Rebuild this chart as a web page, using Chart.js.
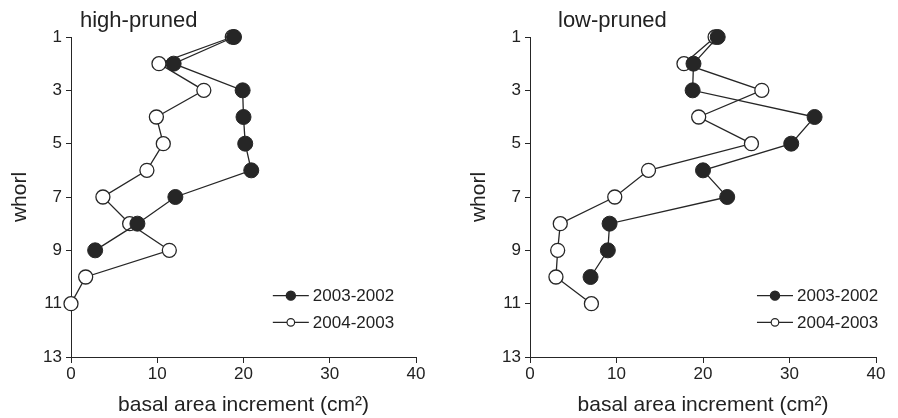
<!DOCTYPE html>
<html>
<head>
<meta charset="utf-8">
<script src="https://cdn.jsdelivr.net/npm/chart.js@4.4.1/dist/chart.umd.min.js"></script>
<style>
  html, body { margin: 0; padding: 0; background: #fff; }
  .wrap { display: flex; width: 898px; height: 418px; }
  .panel { position: relative; width: 449px; height: 418px; }
</style>
</head>
<body>
<div class="wrap">
  <div class="panel"><canvas id="high"></canvas></div>
  <div class="panel"><canvas id="low"></canvas></div>
</div>
<script>
// whorl number (1 = top of crown)
const whorls = [1, 2, 3, 4, 5, 6, 7, 8, 9, 10, 11];
const seriesLabels = ['2003-2002', '2004-2003'];

// basal area increment (cm²) per whorl
const highPruned0302 = [18.9, 11.9, 19.9, 20.0, 20.2, 20.9, 12.1, 7.7, 2.8];
const highPruned0403 = [18.7, 10.2, 15.4, 9.9, 10.7, 8.8, 3.7, 6.8, 11.4, 1.7, 0.0];
const lowPruned0302 = [21.7, 18.9, 18.8, 32.9, 30.2, 20.0, 22.8, 9.2, 9.0, 7.0];
const lowPruned0403 = [21.4, 17.8, 26.8, 19.5, 25.6, 13.7, 9.8, 3.5, 3.2, 3.0, 7.1];

const xTicks = [0, 10, 20, 30, 40];
const yTicks = [1, 3, 5, 7, 9, 11, 13];

const ink = '#262626';
const FONT = 'Liberation Sans, Arial, Helvetica, sans-serif';

function toPoints(vals) {
  return vals.map((v, i) => ({ x: v, y: whorls[i] }));
}

// panel label above the plot ("high-pruned" / "low-pruned")
const panelLabel = {
  id: 'panelLabel',
  afterDraw(chart, args, opts) {
    const ctx = chart.ctx;
    ctx.save();
    ctx.font = '22px ' + FONT;
    ctx.fillStyle = '#222';
    ctx.textBaseline = 'alphabetic';
    ctx.fillText(opts.text, chart.chartArea.left + opts.offset, 27);
    ctx.restore();
  }
};

// small legend drawn inside the plot, line + marker like the original
const inlineLegend = {
  id: 'inlineLegend',
  afterDraw(chart, args, opts) {
    const { ctx, chartArea, scales } = chart;
    const x0 = chartArea.left + opts.at * (chartArea.right - chartArea.left);
    const len = 36;
    ctx.save();
    chart.data.datasets.forEach((ds, i) => {
      const y = scales.y.getPixelForValue(opts.rows[i]);
      ctx.strokeStyle = ink;
      ctx.lineWidth = 1.2;
      ctx.beginPath();
      ctx.moveTo(x0, y);
      ctx.lineTo(x0 + len, y);
      ctx.stroke();
      ctx.beginPath();
      ctx.arc(x0 + len / 2, y, i === 0 ? 4.6 : 3.8, 0, Math.PI * 2);
      ctx.fillStyle = ds.pointBackgroundColor;
      ctx.fill();
      ctx.lineWidth = 1.2;
      ctx.stroke();
      ctx.fillStyle = '#222';
      ctx.font = '17px ' + FONT;
      ctx.textBaseline = 'middle';
      ctx.fillText(ds.label, x0 + len + 4, y + 1);
    });
    ctx.restore();
  }
};

function makePanel(id, title, titleOffset, filled, open, yWidth, yTitlePad, padRight, legendAt) {
  return new Chart(document.getElementById(id), {
    type: 'line',
    data: {
      datasets: [
        {
          label: seriesLabels[0],
          data: toPoints(filled),
          borderColor: ink,
          borderWidth: 1.3,
          pointRadius: 7.5,
          pointBackgroundColor: ink,
          pointBorderColor: ink,
          pointBorderWidth: 1,
          tension: 0,
          clip: false
        },
        {
          label: seriesLabels[1],
          data: toPoints(open),
          borderColor: ink,
          borderWidth: 1.3,
          pointRadius: 7,
          pointBackgroundColor: '#ffffff',
          pointBorderColor: ink,
          pointBorderWidth: 1.3,
          tension: 0,
          clip: false
        }
      ]
    },
    options: {
      responsive: false,
      animation: false,
      events: [],
      layout: { padding: { top: 37, right: padRight, left: 0, bottom: 0 } },
      scales: {
        x: {
          type: 'linear',
          min: 0,
          max: 40,
          afterBuildTicks: s => { s.ticks = xTicks.map(v => ({ value: v })); },
          afterFit: s => { s.height = 61; },
          grid: { drawOnChartArea: false, drawTicks: true, tickLength: 6, color: ink },
          border: { display: true, color: ink, width: 1 },
          ticks: { color: '#222', font: { family: FONT, size: 17 }, padding: 1, maxRotation: 0 },
          title: {
            display: true,
            text: 'basal area increment (cm²)',
            color: '#222',
            font: { family: FONT, size: 21 },
            padding: { top: 2, bottom: 0 }
          }
        },
        y: {
          type: 'linear',
          reverse: true,
          min: 1,
          max: 13,
          afterBuildTicks: s => { s.ticks = yTicks.map(v => ({ value: v })); },
          afterFit: s => { s.width = yWidth; },
          grid: { drawOnChartArea: false, drawTicks: true, tickLength: 5, color: ink },
          border: { display: true, color: ink, width: 1 },
          ticks: { color: '#222', font: { family: FONT, size: 17 }, padding: 4 },
          title: {
            display: true,
            text: 'whorl',
            color: '#222',
            font: { family: FONT, size: 21 },
            padding: { top: yTitlePad, bottom: 0 }
          }
        }
      },
      plugins: {
        legend: { display: false },
        tooltip: { enabled: false },
        panelLabel: { text: title, offset: titleOffset },
        inlineLegend: { at: legendAt, rows: [10.7, 11.7] }
      }
    },
    plugins: [panelLabel, inlineLegend]
  });
}

for (const id of ['high', 'low']) {
  const c = document.getElementById(id);
  c.width = 449;
  c.height = 418;
}

makePanel('high', 'high-pruned', 9, highPruned0302, highPruned0403, 71, 8, 33, 0.585);
makePanel('low', 'low-pruned', 28, lowPruned0302, lowPruned0403, 81, 18, 22, 0.656);
</script>
</body>
</html>
